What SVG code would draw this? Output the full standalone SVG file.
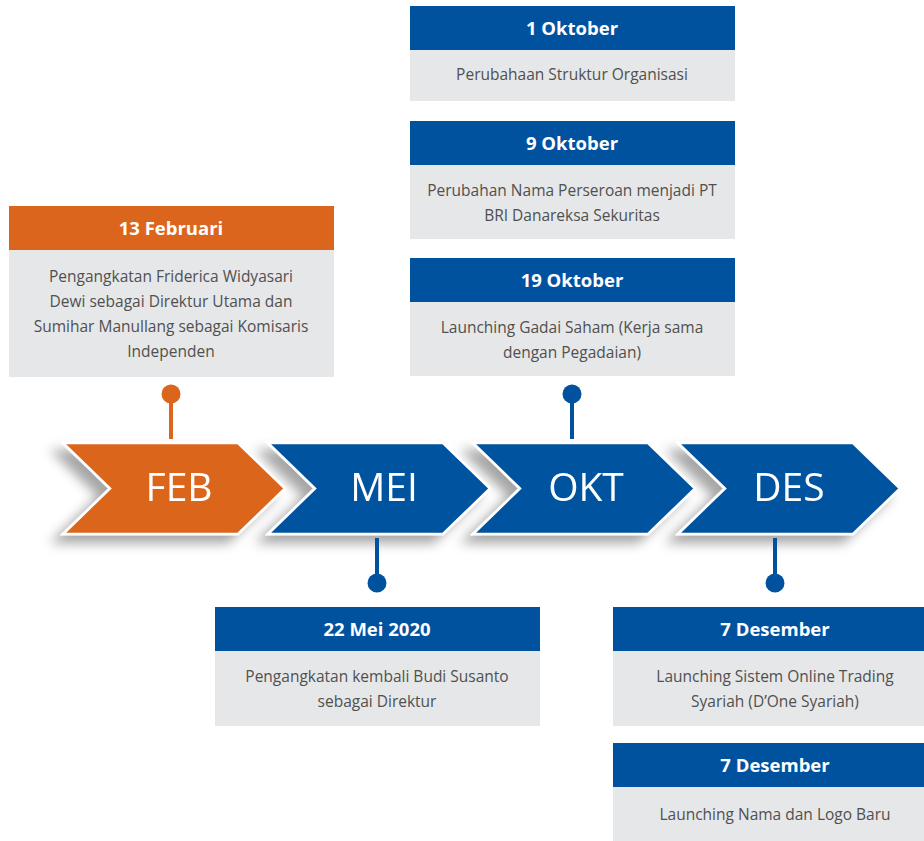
<svg xmlns="http://www.w3.org/2000/svg" width="924" height="841" viewBox="0 0 924 841">
<defs>
<filter id="sh" x="-20%" y="-30%" width="140%" height="170%">
<feGaussianBlur in="SourceAlpha" stdDeviation="6"/>
<feOffset dx="-10" dy="8" result="b"/>
<feFlood flood-color="#000" flood-opacity="0.35"/>
<feComposite in2="b" operator="in"/>
<feMerge><feMergeNode/><feMergeNode in="SourceGraphic"/></feMerge>
</filter>
<path id="chev" d="M0,0 H175 L222,45.5 L175,91 H0 L47,45.5 Z"/>
</defs>
<style>
.hdr{font-family:"Open Sans","Liberation Sans",sans-serif;font-weight:bold;font-size:18.5px;fill:#fff;text-anchor:middle}
.body{font-family:"Open Sans","Liberation Sans",sans-serif;font-size:15.5px;fill:#505050;text-anchor:middle}
.mon{font-family:"Open Sans","Liberation Sans",sans-serif;font-size:39px;fill:#fff;text-anchor:middle}
.bg{fill:#e6e7e8}
.blue{fill:#00529f}
.orange{fill:#dc651e}
.lineB{stroke:#00529f;stroke-width:4}
.lineO{stroke:#dc651e;stroke-width:4}
.chev{stroke:#fff;stroke-width:2.5;stroke-linejoin:miter}
</style>
<rect width="924" height="841" fill="#fff"/>

<g id="chevrons">
<g id="chev-des" filter="url(#sh)"><use href="#chev" x="678" y="443" class="blue chev"/><text x="789" y="501" class="mon">DES</text></g>
<g id="chev-okt" filter="url(#sh)"><use href="#chev" x="473" y="443" class="blue chev"/><text x="586" y="501" class="mon">OKT</text></g>
<g id="chev-mei" filter="url(#sh)"><use href="#chev" x="268" y="443" class="blue chev"/><text x="384" y="501" class="mon">MEI</text></g>
<g id="chev-feb" filter="url(#sh)"><use href="#chev" x="63" y="443" class="orange chev"/><text x="179" y="501" class="mon">FEB</text></g>
</g>

<g id="connectors">
<line x1="171" y1="394" x2="171" y2="439" class="lineO"/>
<circle cx="171" cy="394" r="9.5" class="orange"/>
<line x1="572" y1="394" x2="572" y2="439" class="lineB"/>
<circle cx="572" cy="394" r="9.5" class="blue"/>
<line x1="377" y1="538" x2="377" y2="583" class="lineB"/>
<circle cx="377" cy="583" r="9.5" class="blue"/>
<line x1="775" y1="538" x2="775" y2="583" class="lineB"/>
<circle cx="775" cy="583" r="9.5" class="blue"/>
</g>

<g id="card-13feb">
<rect x="9" y="206" width="325" height="44" class="orange"/>
<rect x="9" y="250" width="325" height="127" class="bg"/>
<text x="171" y="235" class="hdr">13 Februari</text>
<text x="171" y="282" class="body">Pengangkatan Friderica Widyasari</text>
<text x="171" y="307" class="body">Dewi sebagai Direktur Utama dan</text>
<text x="171" y="332" class="body">Sumihar Manullang sebagai Komisaris</text>
<text x="171" y="357" class="body">Independen</text>
</g>

<g id="card-1okt">
<rect x="410" y="6" width="325" height="44" class="blue"/>
<rect x="410" y="50" width="325" height="51" class="bg"/>
<text x="572" y="35" class="hdr">1 Oktober</text>
<text x="572" y="80" class="body">Perubahaan Struktur Organisasi</text>
</g>

<g id="card-9okt">
<rect x="410" y="121" width="325" height="44" class="blue"/>
<rect x="410" y="165" width="325" height="74" class="bg"/>
<text x="572" y="150" class="hdr">9 Oktober</text>
<text x="572" y="196" class="body">Perubahan Nama Perseroan menjadi PT</text>
<text x="572" y="221" class="body">BRI Danareksa Sekuritas</text>
</g>

<g id="card-19okt">
<rect x="410" y="258" width="325" height="44" class="blue"/>
<rect x="410" y="302" width="325" height="74" class="bg"/>
<text x="572" y="287" class="hdr">19 Oktober</text>
<text x="572" y="333" class="body">Launching Gadai Saham (Kerja sama</text>
<text x="572" y="358" class="body">dengan Pegadaian)</text>
</g>

<g id="card-22mei">
<rect x="215" y="607" width="325" height="44" class="blue"/>
<rect x="215" y="651" width="325" height="75" class="bg"/>
<text x="377" y="636" class="hdr">22 Mei 2020</text>
<text x="377" y="682" class="body">Pengangkatan kembali Budi Susanto</text>
<text x="377" y="707" class="body">sebagai Direktur</text>
</g>

<g id="card-7des-a">
<rect x="613" y="607" width="311" height="44" class="blue"/>
<rect x="613" y="651" width="311" height="75" class="bg"/>
<text x="775" y="636" class="hdr">7 Desember</text>
<text x="775" y="682" class="body">Launching Sistem Online Trading</text>
<text x="775" y="707" class="body">Syariah (D’One Syariah)</text>
</g>

<g id="card-7des-b">
<rect x="613" y="743" width="311" height="44" class="blue"/>
<rect x="613" y="787" width="311" height="54" class="bg"/>
<text x="775" y="772" class="hdr">7 Desember</text>
<text x="775" y="820" class="body">Launching Nama dan Logo Baru</text>
</g>
</svg>
